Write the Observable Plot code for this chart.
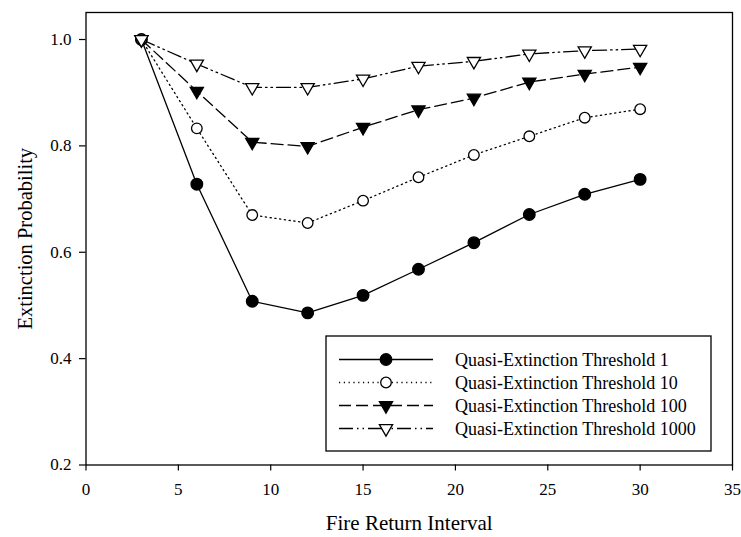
<!DOCTYPE html>
<html><head><meta charset="utf-8">
<script src="https://cdn.jsdelivr.net/npm/d3@7"></script>
<script src="https://cdn.jsdelivr.net/npm/@observablehq/plot@0.6"></script>
<style>
body{margin:0;background:#fff;}
#chart{width:741px;height:537px;}
</style></head><body><div id="chart"></div>
<script>
// ---- data ----
const fireReturnInterval = [3, 6, 9, 12, 15, 18, 21, 24, 27, 30];
const threshold1    = [1.000, 0.728, 0.508, 0.486, 0.519, 0.568, 0.618, 0.671, 0.709, 0.737];
const threshold10   = [1.000, 0.833, 0.670, 0.655, 0.697, 0.741, 0.783, 0.818, 0.853, 0.869];
const threshold100  = [1.000, 0.903, 0.807, 0.799, 0.835, 0.868, 0.890, 0.920, 0.935, 0.948];
const threshold1000 = [1.000, 0.954, 0.910, 0.910, 0.926, 0.950, 0.959, 0.973, 0.979, 0.982];
const seriesNames = [
  "Quasi-Extinction Threshold 1",
  "Quasi-Extinction Threshold 10",
  "Quasi-Extinction Threshold 100",
  "Quasi-Extinction Threshold 1000"
];
const xTicks = [0, 5, 10, 15, 20, 25, 30, 35];
const yTicks = [0.2, 0.4, 0.6, 0.8, 1.0];
const xTitle = "Fire Return Interval";
const yTitle = "Extinction Probability";

// ---- styles ----
const triangleDown = {
  draw(context, size) {
    const s3 = Math.sqrt(3);
    const y = -Math.sqrt(size / (s3 * 3));
    context.moveTo(0, -y * 2);
    context.lineTo(-s3 * y, y);
    context.lineTo(s3 * y, y);
    context.closePath();
  }
};
const styles = [
  {symbol: "circle", fill: "black", r: 5.8, dash: null},
  {symbol: "circle", fill: "white", r: 5.3, dash: "1.2,3.6"},
  {symbol: triangleDown, fill: "black", r: 4.9, dash: "12,5"},
  {symbol: triangleDown, fill: "white", r: 4.9, dash: "14,4,1.5,4,1.5,4"}
];
const allValues = [threshold1, threshold10, threshold100, threshold1000];
const table = allValues.flatMap((vals, i) =>
  vals.map((v, j) => ({x: fireReturnInterval[j], y: v, s: i})));

const font = "Liberation Serif";
const marks = [];
allValues.forEach((vals, i) => {
  const d = table.filter(r => r.s === i);
  marks.push(Plot.line(d, {x: "x", y: "y", stroke: "black", strokeWidth: 1.3,
    strokeDasharray: styles[i].dash ?? undefined}));
});
allValues.forEach((vals, i) => {
  const d = table.filter(r => r.s === i);
  marks.push(Plot.dot(d, {x: "x", y: "y", symbol: styles[i].symbol, r: styles[i].r,
    fill: styles[i].fill, stroke: "black", strokeWidth: 1.3}));
});

const plot = Plot.plot({
  width: 741, height: 537,
  marginLeft: 85.5, marginRight: 9, marginTop: 12, marginBottom: 72.5,
  style: {fontFamily: font, background: "white", color: "black"},
  x: {domain: [0, 35]},
  y: {domain: [0.2, 1.0508]},
  marks: [
    Plot.axisX({ticks: xTicks, tickSize: 6, tickPadding: 12, fontSize: 17, fontFamily: font, label: null, strokeWidth: 1.2}),
    Plot.axisY({ticks: yTicks, tickSize: 6.5, tickPadding: 8, fontSize: 17, fontFamily: font, label: null, strokeWidth: 1.2, tickFormat: d3.format(".1f")}),
    Plot.text([xTitle], {frameAnchor: "bottom", dy: 58, fontSize: 21, fontFamily: font, lineAnchor: "middle", textAnchor: "middle", fill: "black"}),
    Plot.text([yTitle], {frameAnchor: "left", dx: -61, rotate: -90, fontSize: 20.5, fontFamily: font, lineAnchor: "middle", textAnchor: "middle", fill: "black"}),
    ...marks,
    Plot.frame({stroke: "black", strokeWidth: 1.3})
  ]
});
document.getElementById("chart").appendChild(plot);

// ---- legend (inside plot area, lower right) ----
const svg = d3.select(plot);
const lg = svg.append("g").attr("transform", "translate(326,336)");
lg.append("rect").attr("x", 0).attr("y", 0).attr("width", 385).attr("height", 115)
  .attr("fill", "white").attr("stroke", "black").attr("stroke-width", 1.3);
seriesNames.forEach((name, i) => {
  const yy = 23.5 + i * 23;
  const row = lg.append("g").attr("transform", `translate(0,${yy})`);
  row.append("line").attr("x1", 13).attr("x2", 107).attr("y1", 0).attr("y2", 0)
    .attr("stroke", "black").attr("stroke-width", 1.3)
    .attr("stroke-dasharray", styles[i].dash);
  const size = Math.PI * styles[i].r * styles[i].r;
  row.append("path").attr("transform", "translate(60,0)")
    .attr("d", d3.symbol(styles[i].symbol === "circle" ? d3.symbolCircle : styles[i].symbol, size)())
    .attr("fill", styles[i].fill).attr("stroke", "black").attr("stroke-width", 1.3);
  row.append("text").attr("x", 129).attr("y", 0).attr("dy", "0.35em")
    .attr("text-anchor", "start")
    .attr("font-family", font).attr("font-size", 18).attr("fill", "black").text(name);
});
</script></body></html>
